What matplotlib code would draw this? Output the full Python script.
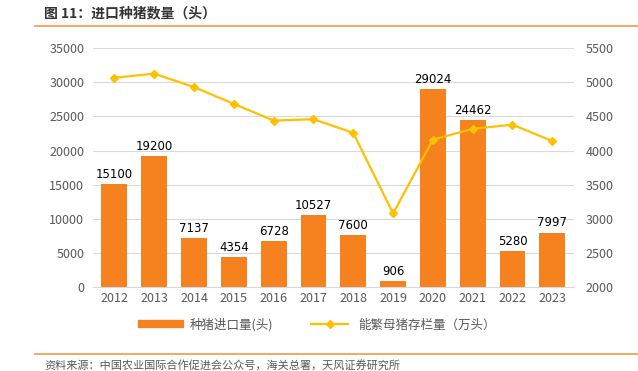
import numpy as np
import matplotlib.pyplot as plt
from matplotlib.lines import Line2D

plt.rcParams['font.family'] = ['Noto Sans CJK SC', 'DejaVu Sans']

# 数据
years = ['2012', '2013', '2014', '2015', '2016', '2017', '2018', '2019',
         '2020', '2021', '2022', '2023']
imports = [15100, 19200, 7137, 4354, 6728, 10527, 7600, 906,
           29024, 24462, 5280, 7997]
sows = [5067, 5128, 4930, 4685, 4440, 4460, 4260, 3080,
        4160, 4320, 4380, 4140]

bar_color = '#F5821F'
line_color = '#FFC000'
text_color = '#595959'

fig = plt.figure(figsize=(6.38, 3.71), dpi=100)
ax = fig.add_axes([0.145, 0.226, 0.755, 0.644])
ax2 = ax.twinx()

x = np.arange(len(years))
ax.bar(x, imports, width=0.65, color=bar_color, zorder=2)
for xi, v in zip(x, imports):
    ax.text(xi, v + 500, str(v), ha='center', va='bottom',
            fontsize=8.5, color='#000000', family='DejaVu Sans')

ax2.plot(x, sows, color=line_color, lw=1.6, marker='D', ms=4.5, zorder=3)

ax.set_ylim(0, 35000)
ax.set_yticks(np.arange(0, 35001, 5000))
ax2.set_ylim(2000, 5500)
ax2.set_yticks(np.arange(2000, 5501, 500))
ax.set_xlim(-0.55, len(years) - 0.45)
ax.set_xticks(x)
ax.set_xticklabels(years)

ax.yaxis.grid(True, color='#D9D9D9', lw=0.8, zorder=0)
ax.set_axisbelow(True)
for a in (ax, ax2):
    for s in a.spines.values():
        s.set_visible(False)
    a.tick_params(length=0, labelsize=9, colors=text_color)
ax.spines['bottom'].set_visible(True)
ax.spines['bottom'].set_color('#D9D9D9')
ax.tick_params(axis='y', pad=6)
ax2.tick_params(axis='y', pad=8)

handles = [Line2D([0], [0], color=bar_color, lw=6),
           Line2D([0], [0], color=line_color, lw=1.6, marker='D', ms=4.5)]
fig.legend(handles, ['种猪进口量(头)', '能繁母猪存栏量（万头）'],
           loc='center', bbox_to_anchor=(0.5, 0.125), ncol=2, frameon=False,
           fontsize=9, labelcolor=text_color, handlelength=3, columnspacing=3)

# 标题与来源
fig.text(0.069, 0.965, '图 11：进口种猪数量（头）', fontsize=10, color='#333333',
         va='center', fontweight='bold')
fig.add_artist(Line2D([0.055, 1.0], [0.93, 0.93], color='#F79646', lw=1.2))
fig.add_artist(Line2D([0.055, 1.0], [0.046, 0.046], color='#F79646', lw=1.2))
fig.text(0.069, 0.016, '资料来源：中国农业国际合作促进会公众号，海关总署，天风证券研究所',
         fontsize=8, color='#595959', va='center')

plt.savefig('out.png', dpi=100)
